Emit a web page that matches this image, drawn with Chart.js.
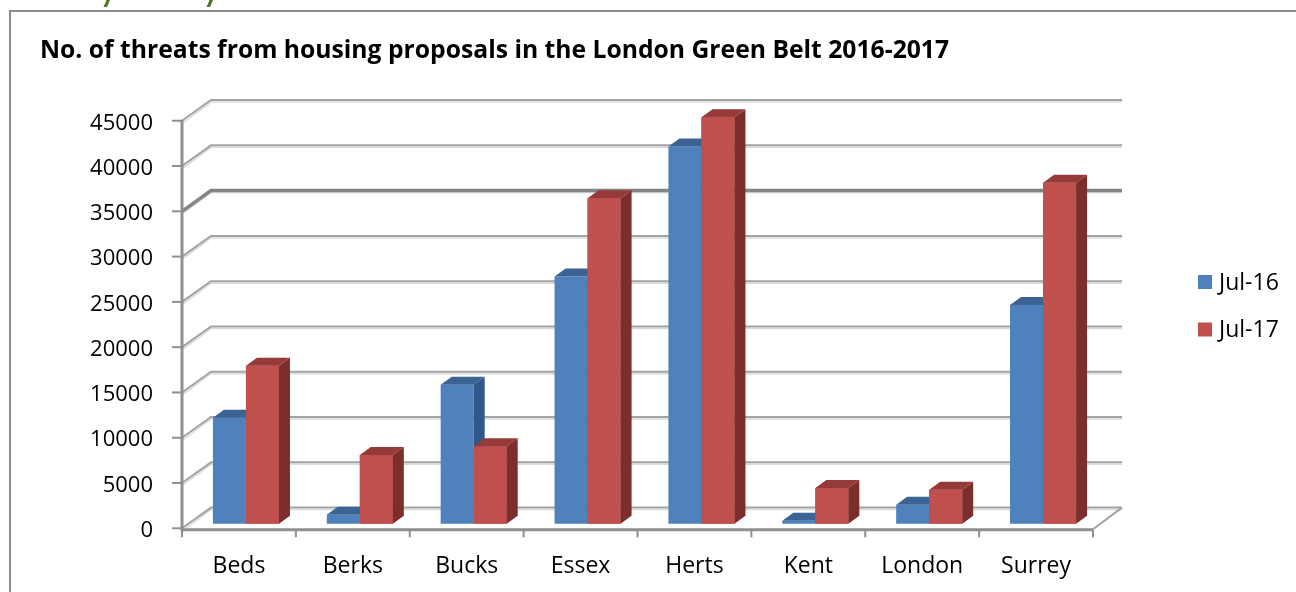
<!DOCTYPE html>
<html lang="en">
<head>
<meta charset="UTF-8">
<title>London Green Belt threats</title>
<script src="https://cdn.jsdelivr.net/npm/chart.js"></script>
<style>
    body { margin: 0; background: #fff; }
    .wrap { position: relative; width: 1296px; height: 592px; overflow: hidden; }
    canvas { position: absolute; left: 0; top: 0; }
    .frame {
        position: absolute; left: 9px; top: 10px; width: 1400px; height: 700px;
        border-left: 2px solid #8c8c8c; border-top: 2px solid #8c8c8c;
    }
    .cut {
        position: absolute; top: -28px; color: #4f7a28;
        font: bold 30px Lato, sans-serif;
    }
</style>
</head>
<body>
<div class="wrap">
    <canvas id="myChart" width="1296" height="592"></canvas>
    <div class="frame"></div>
    <span class="cut" style="left:100px">y</span>
    <span class="cut" style="left:203px">y</span>
</div>
<script>
    // data
    const areas = ['Beds', 'Berks', 'Bucks', 'Essex', 'Herts', 'Kent', 'London', 'Surrey'];
    const jul16 = [11700, 1000, 15350, 27300, 41650, 350, 2100, 24150];
    const jul17 = [17450, 7600, 8550, 35950, 44900, 3950, 3750, 37650];
    const seriesNames = ['Jul-16', 'Jul-17'];
    const yTickLabels = ['0', '5000', '10000', '15000', '20000', '25000', '30000', '35000', '40000', '45000'];

    // fake 3d look (excel style)
    const BAR_DX = 7, BAR_DY = -4.5;      // bars sit a bit behind the front axis
    const DEP_X = 11, DEP_Y = -8;         // bar depth
    const WALL_X = 29, WALL_Y = -20.7;    // back wall offset
    const faceCols = [
        { top: '#3b6495', side: '#30578a' },
        { top: '#953a38', side: '#7b2e2c' }
    ];

    function drawFaces(ctx, bar, cols) {
        const p = bar.getProps(['x', 'y', 'base', 'width'], true);
        const l = p.x - p.width / 2, r = p.x + p.width / 2;
        ctx.fillStyle = cols.side;
        ctx.beginPath();
        ctx.moveTo(r, p.y);
        ctx.lineTo(r + DEP_X, p.y + DEP_Y);
        ctx.lineTo(r + DEP_X, p.base + DEP_Y);
        ctx.lineTo(r, p.base);
        ctx.closePath();
        ctx.fill();
        ctx.fillStyle = cols.top;
        ctx.beginPath();
        ctx.moveTo(l, p.y);
        ctx.lineTo(l + DEP_X, p.y + DEP_Y);
        ctx.lineTo(r + DEP_X, p.y + DEP_Y);
        ctx.lineTo(r, p.y);
        ctx.closePath();
        ctx.fill();
    }

    const fake3d = {
        id: 'fake3d',
        beforeDatasetsDraw(chart) {
            const ctx = chart.ctx, a = chart.chartArea, ys = chart.scales.y;
            ctx.save();
            ys.ticks.forEach(t => {
                const y = ys.getPixelForValue(t.value);
                const heavy = t.value === 35000;
                ctx.strokeStyle = '#dadada';
                ctx.lineWidth = 1.5;
                ctx.beginPath();
                ctx.moveTo(a.left + 1, y + 2);
                ctx.lineTo(a.left + WALL_X, y + WALL_Y + 2);
                ctx.lineTo(a.right + WALL_X, y + WALL_Y + 2);
                ctx.stroke();
                ctx.strokeStyle = heavy ? '#858585' : '#a3a3a3';
                ctx.lineWidth = heavy ? 3.5 : 2;
                ctx.beginPath();
                ctx.moveTo(a.left, y);
                ctx.lineTo(a.left + WALL_X, y + WALL_Y);
                ctx.lineTo(a.right + WALL_X, y + WALL_Y);
                ctx.stroke();
            });
            const y0 = ys.getPixelForValue(0);
            ctx.strokeStyle = '#a3a3a3';
            ctx.lineWidth = 2;
            ctx.beginPath();
            ctx.moveTo(a.right, y0 + 1);
            ctx.lineTo(a.right + WALL_X, y0 + WALL_Y);
            ctx.stroke();
            ctx.restore();
        },
        beforeDatasetDraw(chart) {
            chart.ctx.save();
            chart.ctx.translate(BAR_DX, BAR_DY);
        },
        afterDatasetDraw(chart) {
            chart.ctx.restore();
        },
        afterDatasetsDraw(chart) {
            const ctx = chart.ctx, a = chart.chartArea, ys = chart.scales.y;
            // side + top faces, blue first then red over it
            ctx.save();
            ctx.translate(BAR_DX, BAR_DY);
            const m0 = chart.getDatasetMeta(0), m1 = chart.getDatasetMeta(1);
            m0.data.forEach((bar, i) => {
                drawFaces(ctx, bar, faceCols[0]);
                m1.data[i].draw(ctx);
                drawFaces(ctx, m1.data[i], faceCols[1]);
            });
            ctx.restore();

            // front axes
            const y0 = ys.getPixelForValue(0);
            ctx.save();
            ctx.strokeStyle = '#8f8f8f';
            ctx.lineWidth = 3;
            ctx.beginPath();
            ctx.moveTo(a.left, ys.getPixelForValue(45000) - 1);
            ctx.lineTo(a.left, y0 + 3);
            ctx.stroke();
            ctx.lineWidth = 2;
            ys.ticks.forEach(t => {
                const y = ys.getPixelForValue(t.value);
                ctx.beginPath();
                ctx.moveTo(a.left - 10, y);
                ctx.lineTo(a.left, y);
                ctx.stroke();
            });
            ctx.lineWidth = 3;
            ctx.beginPath();
            ctx.moveTo(a.left, y0 + 1.5);
            ctx.lineTo(a.right, y0 + 1.5);
            ctx.stroke();
            ctx.lineWidth = 2;
            const step = (a.right - a.left) / areas.length;
            for (let i = 0; i <= areas.length; i++) {
                const x = a.left + i * step;
                ctx.beginPath();
                ctx.moveTo(x, y0 + 2);
                ctx.lineTo(x, y0 + 9);
                ctx.stroke();
            }
            ctx.restore();
        }
    };

    // legend on the right, drawn from the datasets
    const sideLegend = {
        id: 'sideLegend',
        afterDraw(chart) {
            const ctx = chart.ctx;
            ctx.save();
            ctx.font = '23px "Open Sans", sans-serif';
            ctx.textBaseline = 'middle';
            ctx.textAlign = 'left';
            chart.data.datasets.forEach((ds, i) => {
                const cy = 282 + i * 47.5;
                ctx.fillStyle = ds.backgroundColor;
                ctx.fillRect(1198, cy - 7, 14, 14);
                ctx.fillStyle = '#000';
                ctx.fillText(ds.label, 1219, cy + 1);
            });
            ctx.restore();
        }
    };

    const ctx = document.getElementById('myChart').getContext('2d');
    const chart = new Chart(ctx, {
        type: 'bar',
        data: {
            labels: areas,
            datasets: [
                { label: seriesNames[0], data: jul16, backgroundColor: '#4f81bd', clip: false },
                { label: seriesNames[1], data: jul17, backgroundColor: '#c0504d', clip: false }
            ]
        },
        options: {
            responsive: false,
            animation: false,
            layout: { padding: { left: 40, right: 203, top: 0, bottom: 0 } },
            datasets: { bar: { categoryPercentage: 0.58, barPercentage: 1, borderWidth: 0 } },
            scales: {
                x: {
                    grid: { display: false, drawTicks: false },
                    border: { display: false },
                    ticks: { color: '#000', padding: 24, font: { family: 'Open Sans', size: 23 } },
                    afterFit(s) { s.height = 63.7; }
                },
                y: {
                    min: 0,
                    max: 45000,
                    grid: { display: false, drawTicks: false },
                    border: { display: false },
                    ticks: {
                        stepSize: 5000,
                        color: '#000',
                        padding: 29,
                        labelOffset: 2.5,
                        font: { family: 'Open Sans', size: 22 },
                        callback: (v, i) => yTickLabels[i]
                    },
                    afterFit(s) { s.width = 142; }
                }
            },
            plugins: {
                legend: { display: false },
                tooltip: { enabled: false },
                title: {
                    display: true,
                    text: 'No. of threats from housing proposals in the London Green Belt 2016-2017',
                    align: 'start',
                    color: '#000',
                    font: { family: 'Open Sans', size: 24.7, weight: 'bold' },
                    padding: { top: 36, bottom: 55.1 }
                }
            }
        },
        plugins: [fake3d, sideLegend]
    });
</script>
</body>
</html>
